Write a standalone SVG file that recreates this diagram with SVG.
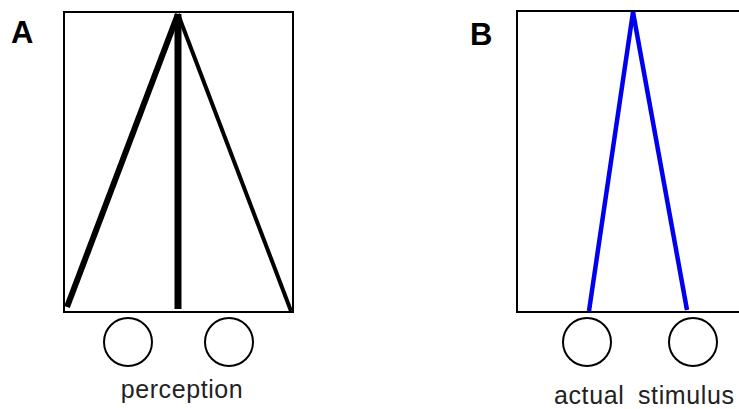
<svg xmlns="http://www.w3.org/2000/svg" width="739" height="409" viewBox="0 0 739 409">
<style>
.box{fill:none;stroke:#000;stroke-width:2}
.c{fill:#fff;stroke:#000;stroke-width:2}
.lbl{font-family:"Liberation Sans",Arial,sans-serif;font-weight:bold;font-size:31px;fill:#000}
.t{font-family:"Liberation Sans",Arial,sans-serif;font-size:25px;letter-spacing:0.6px;fill:#222}
.k{stroke:#000;fill:none}
.b{stroke:#0000ee;stroke-width:4.5;fill:none}
</style>
<rect width="739" height="409" fill="#fff"/>
<g id="panelA">
<text class="lbl" x="11" y="43">A</text>
<rect class="box" x="64" y="12" width="229" height="300"/>
</g>
<g id="connectorsA">
<line class="k" x1="178" y1="14" x2="67" y2="307" stroke-width="6"/>
<line class="k" x1="178" y1="14" x2="178" y2="309" stroke-width="7"/>
<line class="k" x1="178" y1="14" x2="291" y2="311" stroke-width="4"/>
</g>
<g id="circlesA">
<circle class="c" cx="128" cy="342" r="24"/>
<circle class="c" cx="229" cy="342" r="24"/>
</g>
<text class="t" x="182" y="398" text-anchor="middle">perception</text>
<g id="panelB">
<text class="lbl" x="470" y="45">B</text>
<rect class="box" x="517" y="11" width="240" height="301"/>
</g>
<g id="connectorsB">
<line class="b" x1="633" y1="12" x2="589" y2="311"/>
<line class="b" x1="633" y1="12" x2="687" y2="310"/>
</g>
<g id="circlesB">
<circle class="c" cx="587" cy="342" r="24"/>
<circle class="c" cx="693" cy="342" r="24"/>
</g>
<text class="t" y="404"><tspan x="554">actual</tspan><tspan x="638">stimulus</tspan></text>
</svg>
